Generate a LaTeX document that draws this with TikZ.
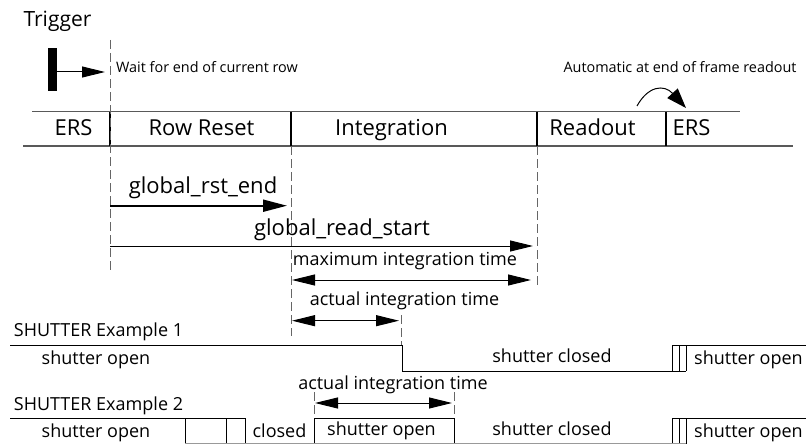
\documentclass[tikz,border=0pt]{standalone}
\usepackage{fontspec}
\setmainfont{Open Sans}
\usetikzlibrary{arrows.meta}
\tikzset{
 lbl/.style={inner sep=0pt, anchor=base, text=black},
 hugefont/.style={font=\fontsize{22}{24}\selectfont},
 trigfont/.style={font=\fontsize{21}{23}\selectfont},
 midfont/.style={font=\fontsize{18}{20}\selectfont},
 smlfont/.style={font=\fontsize{14.4}{16}\selectfont},
 guide/.style={draw=black!60, line width=1pt, dash pattern=on 9pt off 4pt},
 wave/.style={draw=black, line width=1pt},
 sepline/.style={draw=black, line width=1.4pt},
 rail/.style={draw=black!65, line width=1.2pt},
 arr/.style={-{Triangle[length=23pt,width=11pt]}, line width=1pt},
 darr/.style={{Triangle[length=23pt,width=11pt]}-{Triangle[length=23pt,width=11pt]}, line width=1pt},
}
\begin{document}
\begin{tikzpicture}[x=1pt,y=-1pt]
\useasboundingbox (0,0) rectangle (806,444);
% trigger
\node[lbl,trigfont] (trig) at (57.5,27) {Trigger};
\fill (48,48) rectangle (57,91);
\coordinate (ta) at (57,72);
\coordinate (tb) at (105,72);
\draw[arr] (ta) -- (tb);
\node[lbl,smlfont] (wait) at (207,72.5) {Wait for end of current row};
\node[lbl,smlfont] (auto) at (680,72.5) {Automatic at end of frame readout};
% band
\coordinate (bt1) at (32,111.7); \coordinate (bt2) at (740,111.7);
\coordinate (bb1) at (23,146); \coordinate (bb2) at (793,146);
\draw[rail] (bt1) -- (bt2);
\draw[rail] (bb1) -- (bb2);
\foreach \x in {110,291,537,666} \draw[sepline] (\x,111.7) -- (\x,146);
\node[lbl,hugefont] (ers1) at (73.5,135) {ERS};
\node[lbl,hugefont] (rr) at (201.5,135) {Row Reset};
\node[lbl,hugefont] (integ) at (391.5,135) {Integration};
\node[lbl,hugefont] (rd) at (592.5,135) {Readout};
\node[lbl,hugefont] (ers2) at (691.5,135) {ERS};
% curved arrow
\coordinate (ca) at (637,106);
\coordinate (cb) at (686,108);
\draw[line width=1pt, -{Triangle[length=20pt,width=14pt]}] (ca) .. controls (648,86) and (664,84) .. (cb);
% guides
\draw[guide] (110,40) -- (110,272);
\draw[guide] (291,146) -- (291,336);
\draw[guide] (537,146) -- (537,288);
\draw[guide] (401.5,315) -- (401.5,345);
\draw[guide] (314,392) -- (314,418);
\draw[guide] (454,392) -- (454,418);
% timing arrows
\node[lbl,hugefont] (gre) at (203,193) {global\_rst\_end};
\coordinate (g1a) at (110,205.7); \coordinate (g1b) at (287,205.7);
\draw[-{Triangle[length=24pt,width=12pt]}, line width=2pt] (g1a) -- (g1b);
\node[lbl,hugefont] (grs) at (342,235) {global\_read\_start};
\coordinate (g2a) at (110,246); \coordinate (g2b) at (533,246);
\draw[arr] (g2a) -- (g2b);
\node[lbl,midfont] (mit) at (405,265) {maximum integration time};
\coordinate (m1) at (292,280); \coordinate (m2) at (531,280);
\draw[darr] (m1) -- (m2);
\node[lbl,midfont] (ait1) at (404.5,305) {actual integration time};
\coordinate (a1) at (292,320.7); \coordinate (a2) at (399,320.7);
\draw[darr] (a1) -- (a2);
% example 1
\node[lbl,midfont] (ex1) at (98.5,336.7) {SHUTTER Example 1};
\draw[wave] (10,345) -- (402,345) -- (402,371) -- (686,371);
\foreach \x in {672,679,686} \draw[wave] (\x,345) -- (\x,371);
\draw[wave] (672,345) -- (806,345);
\node[lbl,midfont] (so1) at (96,364) {shutter open};
\node[lbl,midfont] (sc1) at (552,362.7) {shutter closed};
\node[lbl,midfont] (so1r) at (748.5,364) {shutter open};
% example 2
\node[lbl,midfont] (ait2) at (393,389) {actual integration time};
\coordinate (b1) at (315,403); \coordinate (b2) at (452,403);
\draw[darr] (b1) -- (b2);
\node[lbl,midfont] (ex2) at (98.5,410) {SHUTTER Example 2};
\draw[wave] (10,418) -- (245,418) -- (245,444);
\foreach \x in {185,226} \draw[wave] (\x,418) -- (\x,444);
\draw[wave] (314,444) -- (314,418) -- (454,418) -- (454,444);
\foreach \x in {672,679,686} \draw[wave] (\x,418) -- (\x,444);
\draw[wave] (672,418) -- (806,418);
\draw[draw=black!40, line width=1pt] (185,443.6) -- (686,443.6);
\node[lbl,midfont] (so2) at (96,437) {shutter open};
\node[lbl,midfont] (cl2) at (279.5,437) {closed};
\node[lbl,midfont] (so2b) at (381.5,435) {shutter open};
\node[lbl,midfont] (sc2) at (552,435) {shutter closed};
\node[lbl,midfont] (so2r) at (748.5,437) {shutter open};
\end{tikzpicture}
\end{document}
